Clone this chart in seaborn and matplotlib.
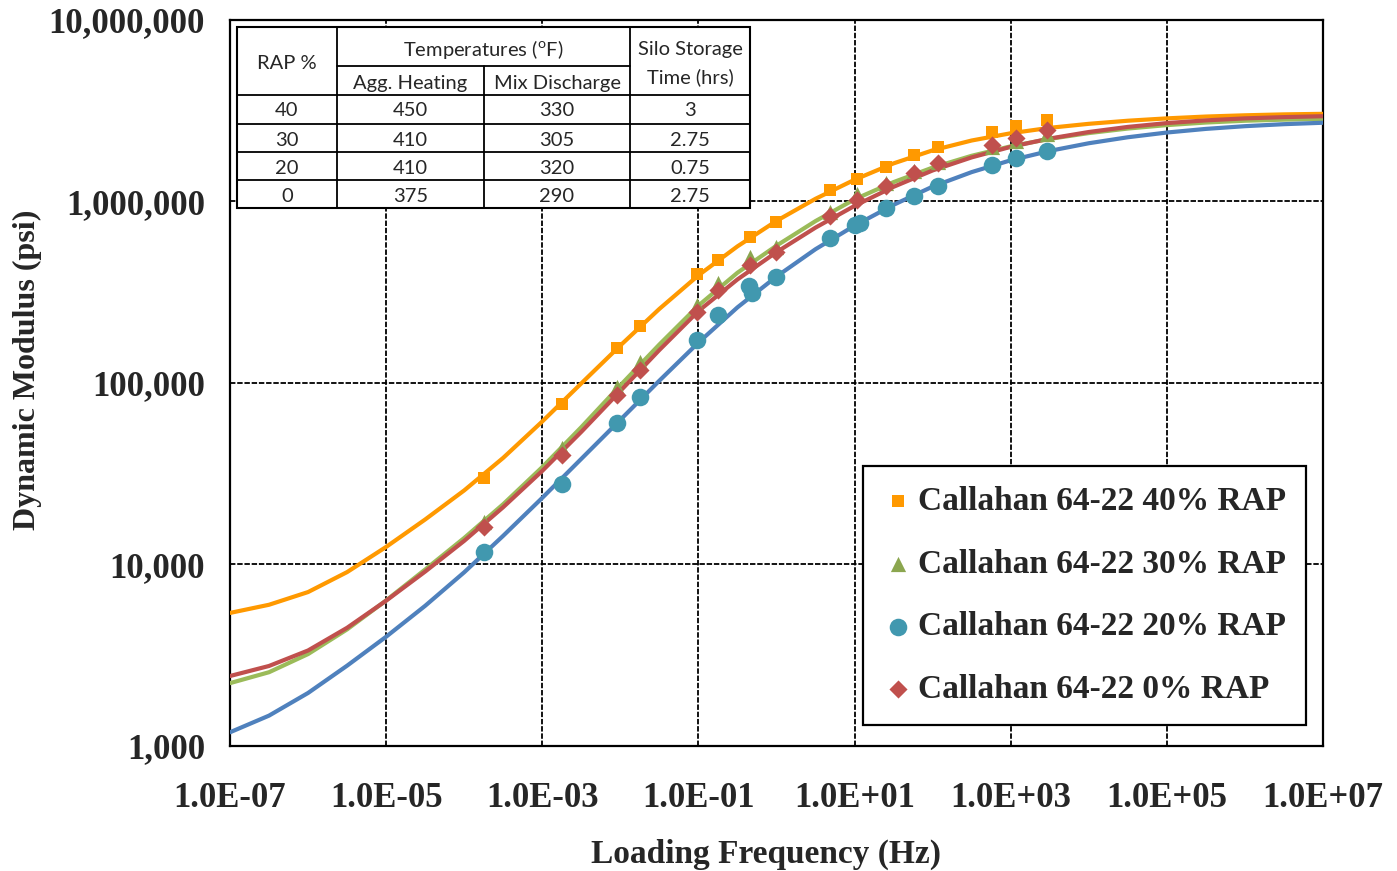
import numpy as np
import pandas as pd
import seaborn as sns
import matplotlib
matplotlib.use("Agg")
import matplotlib.pyplot as plt
from matplotlib.ticker import FixedLocator, FuncFormatter, NullFormatter

# fitted master curves at half-decade steps
freq_curve = [1e-7, 3.16e-7, 1e-6, 3.16e-6, 1e-5, 3.16e-5, 1e-4, 3.16e-4, 1e-3, 3.16e-3,
              1e-2, 3.16e-2, 1e-1, 3.16e-1, 1, 3.16, 10, 31.6, 100, 316,
              1e3, 3.16e3, 1e4, 3.16e4, 1e5, 3.16e5, 1e6, 3.16e6, 1e7]
curve_40 = [5410, 6000, 7050, 9080, 12500, 17700, 25600, 38700, 61400, 99500,
            161000, 256000, 392000, 566000, 782000, 1035000, 1318000, 1622000, 1914000, 2168000,
            2377000, 2547000, 2679000, 2786000, 2871000, 2938000, 2985000, 3020000, 3041000]
curve_30 = [2220, 2550, 3210, 4390, 6340, 9380, 14000, 21500, 34400, 57100,
            97100, 163000, 267000, 405000, 571000, 780000, 1028000, 1279000, 1538000, 1786000,
            2014000, 2213000, 2382000, 2523000, 2636000, 2723000, 2786000, 2825000, 2851000]
curve_20 = [1190, 1470, 1960, 2770, 4000, 5920, 9060, 14400, 23300, 38200,
            62700, 103000, 167000, 261000, 386000, 546000, 736000, 959000, 1208000, 1452000,
            1687000, 1901000, 2094000, 2259000, 2399000, 2512000, 2600000, 2667000, 2716000]
curve_0 = [2430, 2760, 3360, 4480, 6320, 9140, 13500, 20700, 32800, 53800,
           90400, 152000, 249000, 372000, 526000, 718000, 946000, 1205000, 1483000, 1750000,
           2000000, 2223000, 2415000, 2576000, 2704000, 2799000, 2871000, 2917000, 2951000]

# measured points
freq_pts = [1.8e-4, 1.8e-3, 9.1e-3, 1.8e-2, 9.6e-2, 0.18, 0.46, 0.99,
            4.8, 10.7, 25, 58, 117, 580, 1170, 2900]
pts_40 = [30000, 76600, 156000, 206000, 399000, 476000, 637000, 771000,
          1156000, 1330000, 1549000, 1803000, 1996000, 2414000, 2606000, 2810000]
pts_30 = [17100, 43800, 95000, 130600, 269000, 356000, 494000, 561000,
          875000, 1099000, 1265000, 1472000, 1651000, 1996000, 2155000, 2354000]
pts_0 = [16100, 40100, 85900, 118000, 246000, 325000, 447000, 527000,
         832000, 1019000, 1217000, 1436000, 1630000, 2048000, 2238000, 2477000]
freq_pts_20 = [1.8e-4, 1.8e-3, 9.1e-3, 1.8e-2, 9.6e-2, 0.18, 0.45, 0.49, 0.99,
               4.8, 10.1, 11.7, 25, 58, 117, 580, 1170, 2900]
pts_20 = [11700, 27800, 60200, 83700, 172600, 237000, 342000, 313000, 384000,
          630000, 743000, 762000, 921000, 1072000, 1217000, 1589000, 1737000, 1898000]

labels = ["Callahan 64-22 40% RAP", "Callahan 64-22 30% RAP",
          "Callahan 64-22 20% RAP", "Callahan 64-22 0% RAP"]

# table contents
tab_rap = ["40", "30", "20", "0"]
tab_agg = ["450", "410", "410", "375"]
tab_mix = ["330", "305", "320", "290"]
tab_silo = ["3", "2.75", "0.75", "2.75"]

sns.set_style("white")
plt.rcParams["font.family"] = ["Liberation Serif", "DejaVu Serif"]
plt.rcParams["font.weight"] = "bold"

W, H = 1397, 871
fig = plt.figure(figsize=(W / 100, H / 100), dpi=100)
ax = fig.add_axes([230 / W, 1 - 746 / H, (1323 - 230) / W, (746 - 20) / H])

line_cols = ["#FF9900", "#9BBB59", "#4F81BD", "#C0504D"]
mark_cols = ["#FF9900", "#8BA64F", "#4198AF", "#C0504D"]
curves = [curve_40, curve_30, curve_20, curve_0]
for ys, c in zip(curves, line_cols):
    sns.lineplot(x=freq_curve, y=ys, color=c, linewidth=3.0, ax=ax, legend=False, zorder=3)

pts = [(freq_pts, pts_40, "s", 80), (freq_pts, pts_30, "^", 120),
       (freq_pts_20, pts_20, "o", 160), (freq_pts, pts_0, "D", 85)]
for (xs, ys, m, s), c, lab in zip(pts, mark_cols, labels):
    sns.scatterplot(x=xs, y=ys, marker=m, s=s, color=c, linewidth=0, ax=ax, label=lab, zorder=4)

ax.set_xscale("log")
ax.set_yscale("log")
ax.set_xlim(1e-7, 1e7)
ax.set_ylim(1e3, 1e7)

xmaj = [10.0 ** k for k in range(-7, 8, 2)]
xmin = [n * 10.0 ** k for k in range(-6, 7, 2) for n in range(1, 10)]
ymaj = [10.0 ** k for k in range(3, 8)]
ymin = [n * 10.0 ** k for k in range(3, 7) for n in range(2, 10)]
ax.xaxis.set_major_locator(FixedLocator(xmaj))
ax.xaxis.set_minor_locator(FixedLocator(xmin))
ax.yaxis.set_major_locator(FixedLocator(ymaj))
ax.yaxis.set_minor_locator(FixedLocator(ymin))
ax.xaxis.set_major_formatter(FuncFormatter(lambda v, p: f"{v:.1E}"))
ax.yaxis.set_major_formatter(FuncFormatter(lambda v, p: f"{v:,.0f}"))
ax.xaxis.set_minor_formatter(NullFormatter())
ax.yaxis.set_minor_formatter(NullFormatter())

ax.tick_params(which="major", direction="inout", length=14, width=1.5, labelsize=25, pad=11)
ax.tick_params(which="minor", direction="in", length=6, width=1.5)
ax.tick_params(axis="x", which="major", pad=19)
ax.grid(which="major", color="black", linestyle=(0, (3, 1)), linewidth=1.3)
for sp in ax.spines.values():
    sp.set_color("black")
    sp.set_linewidth(1.6)

ax.set_xlabel("Loading Frequency (Hz)", fontsize=24, fontweight="bold")
ax.xaxis.set_label_coords(0.49, -0.128)
ax.set_ylabel("Dynamic Modulus (psi)", fontsize=23, fontweight="bold")
ax.yaxis.set_label_coords(-0.172, 0.518)

leg = ax.legend(loc="lower right", bbox_to_anchor=(1306 / W, 1 - 725 / H),
                bbox_transform=fig.transFigure, borderaxespad=0,
                prop={"family": "Liberation Serif", "weight": "bold", "size": 24},
                frameon=True, fancybox=False, edgecolor="black", framealpha=1,
                labelspacing=0.95, borderpad=0.6, handlelength=0.9, handletextpad=0.15)
leg.get_frame().set_linewidth(1.6)

# table drawn in an overlay axes using pixel coordinates
tx0, tx1, ty0, ty1 = 237, 750, 27, 208
tab = fig.add_axes([tx0 / W, 1 - ty1 / H, (tx1 - tx0) / W, (ty1 - ty0) / H])
tab.set_xlim(tx0, tx1)
tab.set_ylim(ty1, ty0)
tab.axis("off")
tab.add_patch(plt.Rectangle((tx0, ty0), tx1 - tx0, ty1 - ty0, facecolor="white",
                            edgecolor="black", linewidth=1.5, clip_on=False))
lw = 1.3
for xv in [337, 630]:
    tab.plot([xv, xv], [ty0, ty1], color="black", lw=lw)
tab.plot([484, 484], [66, ty1], color="black", lw=lw)
tab.plot([337, 630], [66, 66], color="black", lw=lw)
for yv in [95, 124, 152, 180]:
    tab.plot([tx0, tx1], [yv, yv], color="black", lw=lw)

tfont = {"family": ["Lato", "DejaVu Sans"], "weight": "normal", "size": 14.5}
plt.rcParams["mathtext.fontset"] = "custom"
plt.rcParams["mathtext.rm"] = "Lato"
cx = [287, 410.5, 557, 690]
tab.text(cx[0], 63, "RAP %", ha="center", va="center", **tfont)
tab.text((337 + 630) / 2, 49, r"Temperatures ($^{\mathregular{o}}$F)", ha="center", va="center", **tfont)
tab.text(cx[1], 83, "Agg. Heating", ha="center", va="center", **tfont)
tab.text(cx[2], 83, "Mix Discharge", ha="center", va="center", **tfont)
tab.text(cx[3], 49, "Silo Storage", ha="center", va="center", **tfont)
tab.text(cx[3], 77, "Time (hrs)", ha="center", va="center", **tfont)
row_y = [111, 140, 168, 196]
for i, ry in enumerate(row_y):
    for x, col in zip(cx, [tab_rap, tab_agg, tab_mix, tab_silo]):
        tab.text(x, ry, col[i], ha="center", va="center", **tfont)

fig.savefig("out.png", dpi=100)
